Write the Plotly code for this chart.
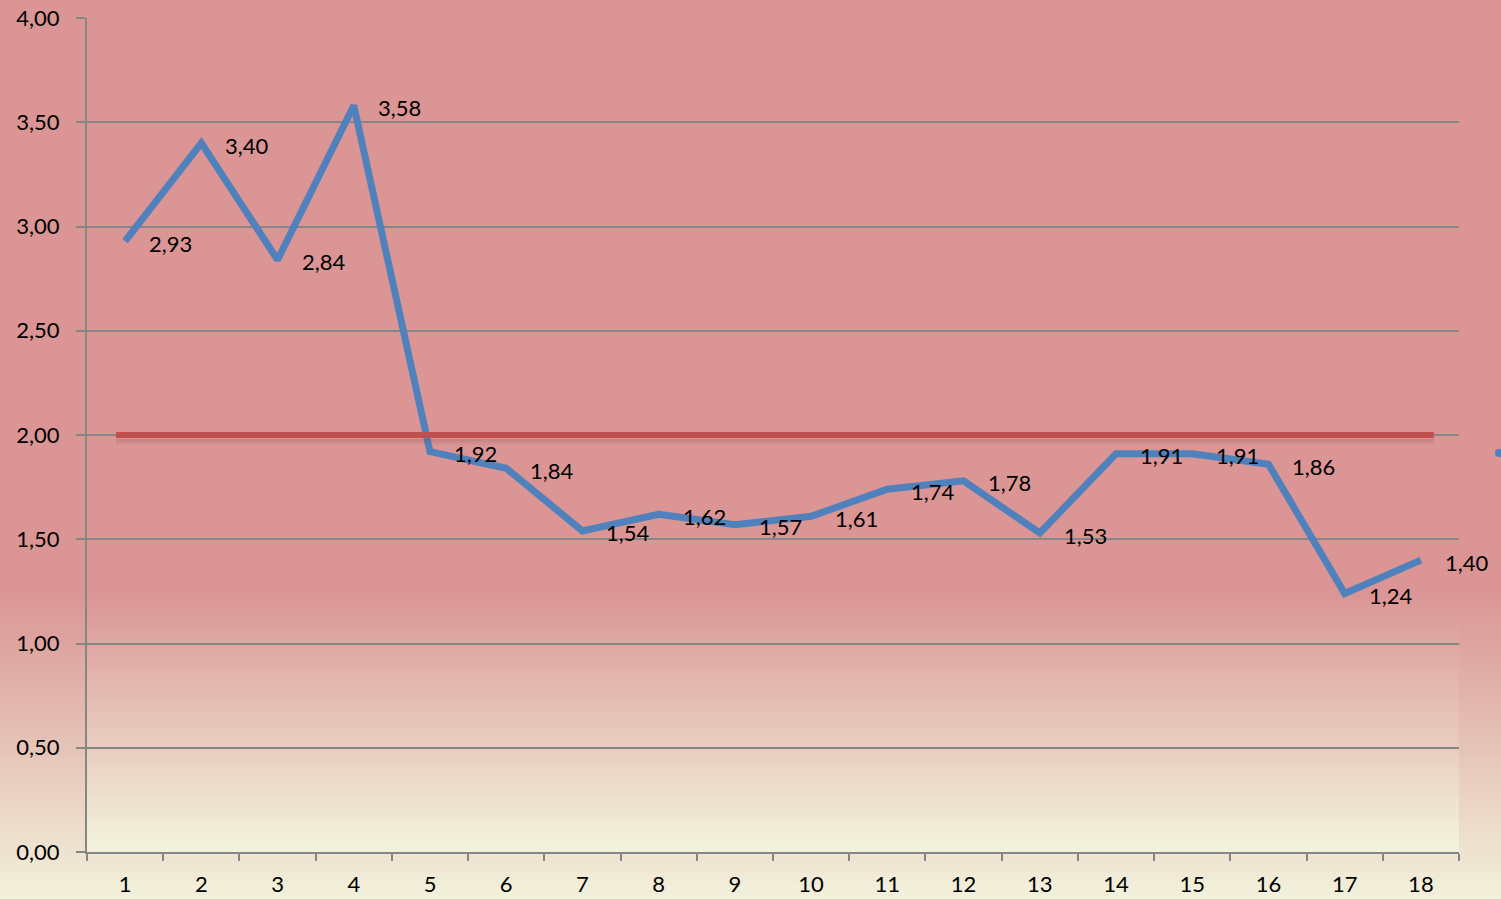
import plotly.graph_objects as go

categories = [str(i) for i in range(1, 19)]
values = [2.93, 3.40, 2.84, 3.58, 1.92, 1.84, 1.54, 1.62, 1.57, 1.61, 1.74, 1.78, 1.53, 1.91, 1.91, 1.86, 1.24, 1.40]
labels = ["2,93", "3,40", "2,84", "3,58", "1,92", "1,84", "1,54", "1,62", "1,57", "1,61", "1,74", "1,78", "1,53", "1,91", "1,91", "1,86", "1,24", "1,40"]
target = 2.0

FONT = "Lato"
PINK = (218, 149, 148)
CREAM = (242, 242, 220)


def mix(a, b, t):
    return "rgb(%d,%d,%d)" % tuple(round(a[i] + (b[i] - a[i]) * t) for i in range(3))


# pixel -> paper helpers (plot area 87..1459 x, 18..852 y)
def py(p):
    return (852 - p) / 834.0


def px(p):
    return (p - 87) / 1372.0


shapes = []
step = 4
for p in range(590, 900, step):
    t = min(1.0, max(0.0, (p - 590) / (899 - 590)))
    shapes.append(dict(type="rect", xref="paper", yref="paper", x0=px(0), x1=px(1501),
                       y0=py(p + step + 1), y1=py(p), fillcolor=mix(PINK, CREAM, t),
                       line=dict(width=0), layer="below"))
for p in range(590, 852, step):
    t = min(1.0, max(0.0, (p - 590) / (845 - 590)))
    shapes.append(dict(type="rect", xref="paper", yref="paper", x0=0, x1=1,
                       y0=max(0, py(p + step + 1)), y1=py(p), fillcolor=mix(PINK, CREAM, t),
                       line=dict(width=0), layer="below"))

for k, a in [(1, 0.18), (2, 0.10), (3, 0.05)]:
    yy = target - (3 + 2 * k) / 208.5
    shapes.append(dict(type="line", xref="x", yref="y", x0=-0.12, x1=17.17, y0=yy, y1=yy,
                       line=dict(color="rgba(90,60,60,%.2f)" % a, width=2), layer="above"))
shapes.append(dict(type="line", xref="x", yref="y", x0=-0.12, x1=17.17, y0=target, y1=target,
                   line=dict(color="#C0504D", width=6), layer="above"))
shapes.append(dict(type="circle", xref="paper", yref="paper",
                   x0=px(1495), x1=px(1503), y0=py(457), y1=py(449),
                   fillcolor="#4F81BD", line=dict(width=0)))

fig = go.Figure()
fig.add_trace(go.Scatter(x=categories, y=values, mode="lines",
                         line=dict(color="#4F81BD", width=7), hoverinfo="skip"))

annotations = []
for i, (v, l) in enumerate(zip(values, labels)):
    annotations.append(dict(x=i, y=v, xref="x", yref="y", text=l, showarrow=False,
                            xanchor="left", yanchor="middle", xshift=22, yshift=-2,
                            font=dict(family=FONT, size=22, color="black")))

fig.update_layout(
    width=1501, height=899,
    margin=dict(l=87, r=42, t=18, b=47),
    paper_bgcolor="rgb(218,149,148)",
    plot_bgcolor="rgba(0,0,0,0)",
    separators=",.",
    showlegend=False,
    shapes=shapes,
    annotations=annotations,
    font=dict(family=FONT, size=22, color="black"),
    xaxis=dict(type="category", range=[-0.5, 17.5], tickson="boundaries",
               ticks="outside", ticklen=7, tickwidth=2, tickcolor="#868686",
               showline=True, linecolor="#868686", linewidth=2, showgrid=False,
               zeroline=False, automargin=False, ticklabelstandoff=12,
               tickfont=dict(family=FONT, size=22, color="black")),
    yaxis=dict(range=[0, 4], dtick=0.5, tickformat=".2f", ticks="outside", ticklen=9,
               tickwidth=2, tickcolor="#868686", showline=True, linecolor="#868686",
               linewidth=2, showgrid=True, gridcolor="#868686", gridwidth=2,
               zeroline=False, automargin=False, ticklabelstandoff=12,
               tickfont=dict(family=FONT, size=22, color="black")),
)

fig.write_html("out.html", config={"displayModeBar": False},
               post_script="document.body.style.margin='0';")
